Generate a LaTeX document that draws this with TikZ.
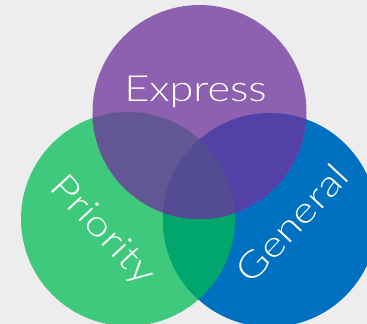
\documentclass[tikz,border=0pt]{standalone}
\usepackage{fontspec}
\newfontfamily\labelfont{Lato Light}
\definecolor{bgc}{HTML}{EDEDED}
\definecolor{purp}{HTML}{8E60B0}
\definecolor{grn}{HTML}{3EC97D}
\definecolor{blu}{HTML}{0070C0}
\definecolor{pg}{HTML}{635694}
\definecolor{pb}{HTML}{5341A8}
\definecolor{gb}{HTML}{00A66B}
\definecolor{pgb}{HTML}{544C92}
\newcommand{\setname}[1]{\scalebox{1.2}[1]{#1}}
\tikzset{
  setlabel/.style={text=white, font=\labelfont\fontsize{36}{36}\selectfont, inner sep=0pt}
}
\begin{document}
\begin{tikzpicture}[x=1pt,y=-1pt]
  \fill[bgc] (0,0) rectangle (367,324);
  \useasboundingbox (0,0) rectangle (367,324);
  \coordinate (cE) at (199.5,112);
  \coordinate (cP) at (128,219);
  \coordinate (cG) at (270,220);
  \def\rad{107}
  \begin{scope}
    \clip (0,0) rectangle (367,324);
    % single sets
    \fill[grn] (cP) circle (\rad);
    \fill[blu] (cG) circle (\rad);
    % Priority & General
    \begin{scope}
      \clip (cP) circle (\rad);
      \fill[gb] (cG) circle (\rad);
    \end{scope}
    \fill[purp] (cE) circle (\rad);
    % Express overlaps
    \begin{scope}
      \clip (cE) circle (\rad);
      \fill[pg] (cP) circle (\rad);
      \fill[pb] (cG) circle (\rad);
      \clip (cP) circle (\rad);
      \fill[pgb] (cG) circle (\rad);
    \end{scope}
  \end{scope}
  \node[setlabel, anchor=base] (express) at (195.5,101) {\setname{Express}};
  \node[setlabel, rotate=-47] (priority) at (102,231) {\setname{Priority}};
  \node[setlabel, rotate=47] (general) at (292,223) {\setname{General}};
\end{tikzpicture}
\end{document}
